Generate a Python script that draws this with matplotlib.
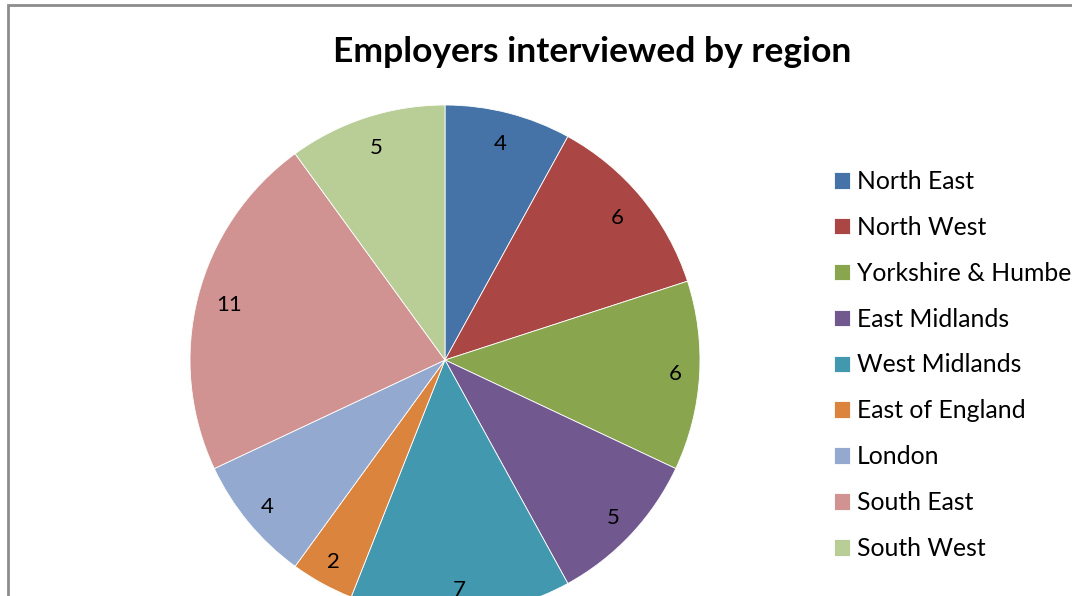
import matplotlib
matplotlib.use('Agg')
import matplotlib.pyplot as plt
from matplotlib.patches import Rectangle

regions = ['North East', 'North West', 'Yorkshire & Humber', 'East Midlands',
           'West Midlands', 'East of England', 'London', 'South East', 'South West']
counts = [4, 6, 6, 5, 7, 2, 4, 11, 5]
colors = ['#4572A7', '#AA4643', '#89A54E', '#71588F', '#4198AF',
          '#DB843D', '#93A9CF', '#D19392', '#B9CD96']

plt.rcParams['font.family'] = ['Lato', 'DejaVu Sans']

W, H = 1072, 596
fig = plt.figure(figsize=(W / 100, H / 100), dpi=100)

# chart border (runs past the bottom/right edges)
fig.add_artist(Rectangle((8 / W, -0.2), 1.5, 1.2 - 5 / H, transform=fig.transFigure,
                         fill=False, edgecolor='#8c8c8c', linewidth=2))

# pie: centre (445, 360) px, radius 255 px
cx, cy, r = 445, 360, 255
ax = fig.add_axes([(cx - r) / W, (H - cy - r) / H, 2 * r / W, 2 * r / H])
wedges, texts, autotexts = ax.pie(counts, colors=colors, startangle=90, counterclock=False,
                                  autopct=lambda p: '%d' % round(p * sum(counts) / 100),
                                  pctdistance=0.875, radius=1,
                                  wedgeprops=dict(edgecolor='white', linewidth=0.6),
                                  textprops=dict(fontsize=16, color='black'))
# labels in the lower half sit a bit further out
for t in autotexts:
    x, y = t.get_position()
    if y < 0:
        t.set_position((x * 0.905 / 0.875, y * 0.905 / 0.875))
ax.set_xlim(-1, 1)
ax.set_ylim(-1, 1)
ax.set_aspect('equal')
ax.axis('off')
for w in wedges:
    w.set_clip_on(False)

fig.text(592 / W, 1 - 52 / H, 'Employers interviewed by region', ha='center', va='center',
         fontsize=25.5, fontweight='bold')

leg = fig.legend(wedges, regions, loc='upper left', bbox_to_anchor=(834 / W, 1 - 170 / H),
                 frameon=False, fontsize=17.8, handlelength=0.65, handleheight=0.65,
                 handletextpad=0.28, labelspacing=0.925, borderpad=0, borderaxespad=0)

fig.savefig('out.png', dpi=100)
